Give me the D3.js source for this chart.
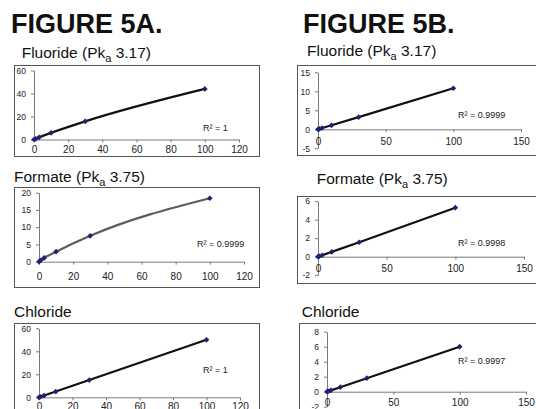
<!DOCTYPE html>
<html><head><meta charset="utf-8">
<script src="https://cdn.jsdelivr.net/npm/d3@7"></script>
<style>body{margin:0;background:#fff} svg{display:block}</style>
</head><body><svg id="c" width="536" height="409"></svg>
<script>
// ---- data ----
const concentrations = [0, 1, 3, 10, 30, 100];
const fluorideA = [0, 0.6, 1.9, 5.8, 15.8, 44];
const formateA  = [0, 0.4, 1.1, 2.9, 7.5, 18.4];
const chlorideA = [0, 0.5, 1.5, 5, 15, 50];
const fluorideB = [0, 0.1, 0.33, 1.05, 3.2, 10.8];
const formateB  = [0, 0.05, 0.16, 0.52, 1.56, 5.3];
const chlorideB = [0, 0.06, 0.18, 0.6, 1.8, 6.0];
const xTicksA = [0, 20, 40, 60, 80, 100, 120];
const xTicksB = [0, 50, 100, 150];
const yTicksFluorideA = [0, 20, 40, 60];
const yTicksFormateA  = [0, 5, 10, 15, 20];
const yTicksChlorideA = [0, 20, 40, 60];
const yTicksFluorideB = [-5, 0, 5, 10, 15];
const yTicksFormateB  = [-2, 0, 2, 4, 6];
const yTicksChlorideB = [-2, 0, 2, 4, 6, 8];
const figureTitles = ["FIGURE 5A.", "FIGURE 5B."];
const anionNames = ["Fluoride", "Formate", "Chloride"];
const anionPka = ["3.17", "3.75", null];
const r2Labels = ["R² = 1", "R² = 0.9999", "R² = 1", "R² = 0.9999", "R² = 0.9998", "R² = 0.9997"];

// ---- layout ----
const FONT = "'Liberation Sans', Arial, Helvetica, sans-serif";
const svg = d3.select("#c");

const panels = [
  {vals: fluorideA, xt: xTicksA, yt: yTicksFluorideA, name: 0, r2: 0, curve: true, color: "#111",
   box: [14, 65, 245, 91], xr: [34, 239], yr: [139.5, 70.5], xoff: 10, title: [21.7, 57.5], r2pos: [203, 128]},
  {vals: formateA, xt: xTicksA, yt: yTicksFormateA, name: 1, r2: 1, curve: true, color: "#5c5c5c",
   box: [14, 187, 245, 100], xr: [39, 244], yr: [261.7, 192.7], xoff: 15, title: [14, 181.7], r2pos: [197, 244]},
  {vals: chlorideA, xt: xTicksA, yt: yTicksChlorideA, name: 2, r2: 2, curve: false, color: "#111",
   box: [14, 323, 245, 100], xr: [39, 240], yr: [397.3, 328.3], xoff: 9.4, title: [14, 317.3], r2pos: [203, 369.5]},
  {vals: fluorideB, xt: xTicksB, yt: yTicksFluorideB, name: 0, r2: 3, curve: false, color: "#111",
   box: [297, 65, 260, 90], xr: [318, 521], yr: [148.3, 72.3], xoff: 11.7, title: [307, 55.5], r2pos: [458, 115]},
  {vals: formateB, xt: xTicksB, yt: yTicksFormateB, name: 1, r2: 4, curve: false, color: "#111",
   box: [297, 196, 260, 87], xr: [318, 524], yr: [275.2, 201.2], xoff: 11.6, title: [316.7, 184.3], r2pos: [458, 242.7]},
  {vals: chlorideB, xt: xTicksB, yt: yTicksChlorideB, name: 2, r2: 5, curve: false, color: "#111",
   box: [299, 323, 260, 100], xr: [327, 526], yr: [406.7, 331.7], xoff: 11, title: [301.7, 317], r2pos: [458, 361]}
];

// figure titles
[[11, 33], [303, 33]].forEach((p, i) => {
  svg.append("text").attr("x", p[0]).attr("y", p[1]).attr("font-family", FONT)
    .attr("font-weight", "bold").attr("font-size", 27).attr("fill", "#111").text(figureTitles[i]);
});

panels.forEach(p => {
  const g = svg.append("g");
  const [bx, by, bw, bh] = p.box;
  g.append("rect").attr("x", bx + 0.5).attr("y", by + 0.5).attr("width", bw).attr("height", bh)
    .attr("fill", "none").attr("stroke", "#555").attr("stroke-width", 1);

  // title
  const t = g.append("text").attr("x", p.title[0]).attr("y", p.title[1])
    .attr("font-family", FONT).attr("font-size", 15.5).attr("fill", "#111");
  const nm = anionNames[p.name], pk = anionPka[p.name];
  if (pk) {
    t.append("tspan").text(nm + " (Pk");
    t.append("tspan").attr("font-size", 11).attr("dy", 4).text("a");
    t.append("tspan").attr("dy", -4).text(" " + pk + ")");
  } else {
    t.text(nm);
  }

  const xMax = p.xt[p.xt.length - 1];
  const x = d3.scaleLinear().domain([0, xMax]).range(p.xr);
  const y = d3.scaleLinear().domain([p.yt[0], p.yt[p.yt.length - 1]]).range(p.yr);

  // y axis
  const ya = g.append("g").attr("transform", `translate(${p.xr[0]},0)`)
    .call(d3.axisLeft(y).tickValues(p.yt).tickSize(3).tickSizeOuter(0).tickPadding(5)
      .tickFormat(d => String(d)));
  // x axis at y=0
  const xa = g.append("g").attr("transform", `translate(0,${y(0)})`)
    .call(d3.axisBottom(x).tickValues(p.xt).tickSize(3).tickSizeOuter(0).tickPadding(p.xoff - 6.5)
      .tickFormat(d => String(d)));
  [ya, xa].forEach(a => {
    a.selectAll("path, line").attr("stroke", "#7a7a7a");
    a.selectAll("text").attr("font-family", FONT).attr("fill", "#222");
  });
  ya.selectAll("text").attr("font-size", 8.5);
  xa.selectAll("text").attr("font-size", 10);

  // trend line
  const line = d3.line().x(d => x(d[0])).y(d => y(d[1]))
    .curve(p.curve ? d3.curveMonotoneX : d3.curveLinear);
  const pts = concentrations.map((c, i) => [c, p.vals[i]]);
  g.append("path").attr("d", line(pts)).attr("fill", "none")
    .attr("stroke", p.color).attr("stroke-width", 2.2);

  // markers
  g.selectAll(".m").data(pts).join("path")
    .attr("transform", d => `translate(${x(d[0])},${y(d[1])}) rotate(45)`)
    .attr("d", d3.symbol(d3.symbolSquare, 16)())
    .attr("fill", "#1f1f78");

  // R2 label
  g.append("text").attr("x", p.r2pos[0]).attr("y", p.r2pos[1]).attr("dy", "0.35em")
    .attr("font-family", FONT).attr("font-size", 9).attr("fill", "#222").text(r2Labels[p.r2]);
});
</script>
</body></html>
